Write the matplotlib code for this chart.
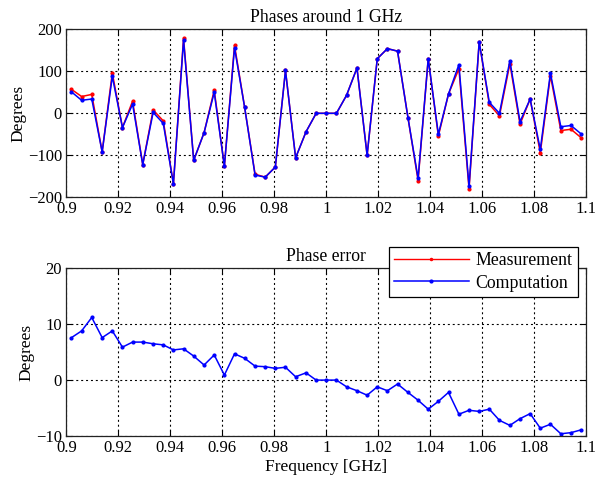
import matplotlib
matplotlib.use("Agg")
import matplotlib.pyplot as plt

plt.rcParams['font.family'] = ['Liberation Serif', 'DejaVu Serif']

freq = [0.9020, 0.9059, 0.9098, 0.9138, 0.9177, 0.9216, 0.9255, 0.9294, 0.9334, 0.9373,
        0.9412, 0.9451, 0.9490, 0.9530, 0.9569, 0.9608, 0.9647, 0.9686, 0.9726, 0.9765,
        0.9804, 0.9843, 0.9882, 0.9922, 0.9961, 1.0000, 1.0039, 1.0078, 1.0118, 1.0157,
        1.0196, 1.0235, 1.0274, 1.0314, 1.0353, 1.0392, 1.0431, 1.0470, 1.0510, 1.0549,
        1.0588, 1.0627, 1.0666, 1.0706, 1.0745, 1.0784, 1.0823, 1.0862, 1.0902, 1.0941,
        1.0980]

measurement = [57, 40, 45, -92, 96, -34, 29, -122, 8, -18,
               -168, 179, -112, -46, 55, -126, 162, 14, -145, -152,
               -128, 102, -106, -44, 0, 0, 0, 43, 108, -100,
               130, 154, 148, -10, -160, 130, -54, 46, 106, -180,
               170, 21, -6, 118, -26, 34, -94, 90, -41, -38,
               -58]

computation = [51, 31, 34, -92, 88, -34, 22, -122, 2, -24,
               -168, 174, -112, -46, 50, -126, 156, 14, -147, -152,
               -128, 102, -106, -44, 0, 0, 0, 43, 108, -100,
               130, 154, 148, -10, -155, 130, -50, 46, 116, -174,
               170, 26, 0, 125, -20, 34, -86, 96, -32, -29,
               -49]

phase_error = [7.6, 8.8, 11.2, 7.6, 8.8, 5.9, 6.8, 6.8, 6.5, 6.3,
               5.4, 5.6, 4.3, 2.7, 4.5, 0.9, 4.7, 3.9, 2.5, 2.4,
               2.1, 2.3, 0.6, 1.3, 0.0, 0.0, 0.0, -1.2, -1.9, -2.7,
               -1.2, -1.9, -0.7, -2.2, -3.6, -5.2, -3.8, -2.2, -6.1, -5.4,
               -5.6, -5.2, -7.2, -8.1, -6.9, -6.0, -8.6, -7.9, -9.6, -9.4,
               -8.9]

xticks = [0.9, 0.92, 0.94, 0.96, 0.98, 1.0, 1.02, 1.04, 1.06, 1.08, 1.1]
xticklabels = ['0.9', '0.92', '0.94', '0.96', '0.98', '1', '1.02', '1.04', '1.06', '1.08', '1.1']

fig = plt.figure(figsize=(5.95, 4.83), dpi=100)
ax1 = fig.add_axes([0.1114, 0.5915, 0.874, 0.3478])
ax2 = fig.add_axes([0.1114, 0.0973, 0.874, 0.3472])

def style(ax):
    ax.set_xlim(0.9, 1.1)
    ax.set_xticks(xticks)
    ax.set_xticklabels(xticklabels)
    ax.grid(True, color='black', linestyle=(0, (1.8, 2.6)), linewidth=0.8)
    ax.tick_params(direction='in', top=True, right=True, length=4, labelsize=12, width=0.8, pad=3)
    for s in ax.spines.values():
        s.set_linewidth(0.9)
        s.set_color('#222222')
    ax.set_axisbelow(True)

ax1.plot(freq, measurement, color='red', marker='.', markersize=4, linewidth=1.1, label='Measurement')
ax1.plot(freq, computation, color='blue', marker='.', markersize=4, linewidth=1.1, label='Computation')
style(ax1)
ax1.set_ylim(-200, 200)
ax1.set_yticks([-200, -100, 0, 100, 200])
ax1.set_title('Phases around 1 GHz', fontsize=12.7, pad=5)
ax1.set_ylabel('Degrees', fontsize=12.5, labelpad=1)

ax2.plot([], [], color='red', marker='.', markersize=3, linewidth=1.0, label='Measurement')
ax2.plot(freq, phase_error, color='blue', marker='.', markersize=4, linewidth=1.1, label='Computation')
style(ax2)
ax2.set_ylim(-10, 20)
ax2.set_yticks([-10, 0, 10, 20])
ax2.set_title('Phase error', fontsize=12.7, pad=5)
ax2.set_ylabel('Degrees', fontsize=12.5, labelpad=1)
ax2.set_xlabel('Frequency [GHz]', fontsize=12.5, labelpad=2)

leg = ax2.legend(loc='upper right', bbox_to_anchor=(0.9714, 0.4886), bbox_transform=fig.transFigure,
                 borderaxespad=0, fontsize=12.8, fancybox=False, framealpha=1, edgecolor='black',
                 handlelength=4.2, borderpad=0.3, labelspacing=0.3, handletextpad=0.4)
leg.get_frame().set_linewidth(0.9)

fig.savefig('out.png', dpi=100)
